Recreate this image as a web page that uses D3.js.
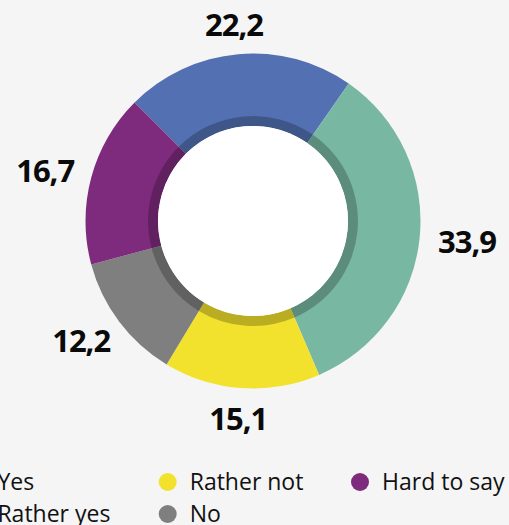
<!DOCTYPE html>
<html>
<head>
<meta charset="utf-8">
<script src="https://cdn.jsdelivr.net/npm/d3@7"></script>
<style>
  html, body { margin: 0; padding: 0; background: #f5f5f5; }
  svg { display: block; }
  .valueLabel { font-family: 'Open Sans', sans-serif; font-weight: 700; font-size: 31px; letter-spacing: -1px; fill: #0a0a0a; }
  .legendLabel { font-family: 'Open Sans', sans-serif; font-size: 23px; fill: #111; }
</style>
</head>
<body>
<div id="chart"></div>
<script>
const categories = ['Yes', 'Rather yes', 'Rather not', 'No', 'Hard to say'];
const values = [22.2, 33.9, 15.1, 12.2, 16.7];
const valueLabels = ['22,2', '33,9', '15,1', '12,2', '16,7'];
const colors = ['#5371b2', '#78b8a2', '#f2e22d', '#7f7f7f', '#7f2b7d'];

const width = 509;
const height = 525;
const cx = 253;
const cy = 221;
const outerR = 167.5;
const innerR = 95;
const shadeR = 105;

const svg = d3.select('#chart').append('svg')
  .attr('width', width)
  .attr('height', height);

svg.append('rect')
  .attr('width', width)
  .attr('height', height)
  .attr('fill', '#f5f5f5');

const data = categories.map((c, i) => ({ name: c, value: values[i], label: valueLabels[i], color: colors[i] }));

const pie = d3.pie()
  .sort(null)
  .value(d => d.value)
  .startAngle(-Math.PI / 4)
  .endAngle(2 * Math.PI - Math.PI / 4);

const arcs = pie(data);

const arc = d3.arc().innerRadius(innerR).outerRadius(outerR);
const shadeArc = d3.arc().innerRadius(innerR).outerRadius(shadeR);

const donut = svg.append('g')
  .attr('transform', `translate(${cx},${cy})`);

donut.selectAll('path.slice')
  .data(arcs)
  .enter()
  .append('path')
  .attr('class', 'slice')
  .attr('d', arc)
  .attr('fill', d => d.data.color);

// darker inner band
donut.selectAll('path.shade')
  .data(arcs)
  .enter()
  .append('path')
  .attr('class', 'shade')
  .attr('d', shadeArc)
  .attr('fill', '#000')
  .attr('fill-opacity', 0.23);

donut.append('circle')
  .attr('r', innerR)
  .attr('fill', '#fff');

// value labels outside the ring
const labelR = 186;
const labels = donut.selectAll('text.valueLabel')
  .data(arcs)
  .enter()
  .append('text')
  .attr('class', 'valueLabel')
  .attr('text-anchor', 'middle')
  .attr('dominant-baseline', 'central')
  .text(d => d.data.label);

labels.each(function (d) {
  const a = (d.startAngle + d.endAngle) / 2;
  const box = this.getBBox();
  const sx = Math.sin(a);
  const sy = -Math.cos(a);
  const x = sx * labelR + sx * box.width / 2;
  const y = sy * labelR + sy * 11.5;
  d3.select(this).attr('x', x).attr('y', y);
});

// legend, column-wise
const legendX = d3.scalePoint()
  .domain([0, 1, 2])
  .range([-24.6, 360]);
const legendY = d3.scalePoint()
  .domain([0, 1])
  .range([482, 514]);

const legend = svg.append('g').attr('class', 'legend');

const items = legend.selectAll('g.item')
  .data(data)
  .enter()
  .append('g')
  .attr('class', 'item')
  .attr('transform', (d, i) => `translate(${legendX(Math.floor(i / 2))},${legendY(i % 2)})`);

items.append('circle')
  .attr('r', 9)
  .attr('fill', d => d.color);

items.append('text')
  .attr('class', 'legendLabel')
  .attr('x', 22)
  .attr('y', 8)
  .text(d => d.name);
</script>
</body>
</html>
